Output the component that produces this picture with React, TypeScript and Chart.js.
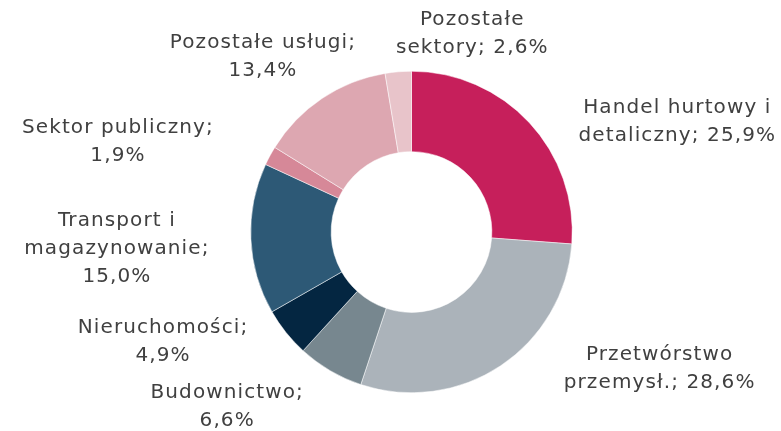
import React, { useEffect, useRef } from "react";
import { Chart, registerables } from "chart.js";

Chart.register(...registerables);

const categories: string[][] = [
  ["Handel hurtowy i", "detaliczny; 25,9%"],
  ["Przetwórstwo", "przemysł.; 28,6%"],
  ["Budownictwo;", "6,6%"],
  ["Nieruchomości;", "4,9%"],
  ["Transport i", "magazynowanie;", "15,0%"],
  ["Sektor publiczny;", "1,9%"],
  ["Pozostałe usługi;", "13,4%"],
  ["Pozostałe", "sektory; 2,6%"],
];

const values: number[] = [25.9, 28.6, 6.6, 4.9, 15.0, 1.9, 13.4, 2.6];

const colors: string[] = [
  "#C61F5B",
  "#ABB3BA",
  "#77878F",
  "#042641",
  "#2D5976",
  "#D68898",
  "#DDA7B1",
  "#E8C4CA",
];

// label offsets (dx, dy) relative to the outer edge point at each slice's mid-angle
const labelOffsets: [number, number][] = [
  [148, -1],
  [159, 3],
  [-103, 36],
  [-123, 9],
  [-134, 10],
  [-152, -14],
  [-59, -42],
  [74, -38],
];

const FONT = "DejaVu Sans";
const FONT_SIZE = 20;
const LINE_H = 28;

const labelPlugin = {
  id: "outerLabels",
  afterDatasetsDraw(chart: any) {
    const ctx = chart.ctx;
    const meta = chart.getDatasetMeta(0);
    ctx.save();
    ctx.font = `${FONT_SIZE}px "${FONT}"`;
    (ctx as any).letterSpacing = "1.1px";
    ctx.fillStyle = "#404040";
    ctx.textAlign = "center";
    ctx.textBaseline = "middle";
    meta.data.forEach((arc: any, i: number) => {
      const p = arc.getProps(["x", "y", "startAngle", "endAngle", "outerRadius"], true);
      const mid = (p.startAngle + p.endAngle) / 2;
      const ax = p.x + Math.cos(mid) * p.outerRadius;
      const ay = p.y + Math.sin(mid) * p.outerRadius;
      const [dx, dy] = labelOffsets[i];
      const lines = categories[i];
      const cx = ax + dx;
      const cy = ay + dy;
      const top = cy - ((lines.length - 1) * LINE_H) / 2;
      lines.forEach((ln, j) => ctx.fillText(ln, cx, top + j * LINE_H));
    });
    ctx.restore();
  },
};

export default function App() {
  const ref = useRef<HTMLCanvasElement | null>(null);
  useEffect(() => {
    if (!ref.current) return;
    const chart = new Chart(ref.current, {
      type: "doughnut",
      data: {
        labels: categories.map((c) => c.join(" ")),
        datasets: [
          {
            data: values,
            backgroundColor: colors,
            borderColor: "#ffffff",
            borderWidth: 0.5,
          },
        ],
      },
      options: {
        animation: false,
        responsive: false,
        cutout: "50%",
        layout: { padding: { top: 71, bottom: 38, left: 100, right: 58 } },
        plugins: { legend: { display: false }, tooltip: { enabled: false } },
      },
      plugins: [labelPlugin],
    });
    return () => chart.destroy();
  }, []);
  return (
    <div style={{ position: "absolute", left: 0, top: 0, width: 781, height: 431, background: "#fff" }}>
      <canvas ref={ref} width={781} height={431} style={{ width: 781, height: 431 }} />
    </div>
  );
}
